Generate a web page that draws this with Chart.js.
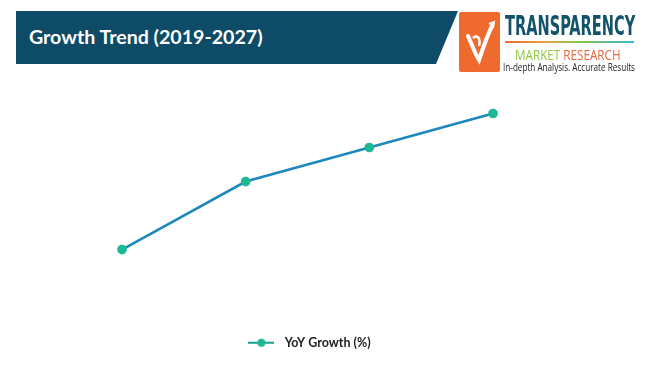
<!DOCTYPE html>
<html>
<head>
<meta charset="utf-8">
<script src="https://cdn.jsdelivr.net/npm/chart.js@4"></script>
<style>
  body { margin: 0; background: #fff; }
  #wrap { position: relative; width: 650px; height: 368px; overflow: hidden; }
  #chart { position: absolute; left: 0; top: 0; }
  .banner {
    position: absolute; left: 16px; top: 11px; width: 442px; height: 53px;
    background: #0e4b66;
    clip-path: polygon(0 0, 100% 0, calc(100% - 22px) 100%, 0 100%);
  }
  .banner span {
    position: absolute; left: 13px; top: 14px;
    color: #fff; font: bold 19.6px Lato, sans-serif; white-space: nowrap;
  }
  .logo-box {
    position: absolute; left: 459px; top: 12px; width: 41px; height: 60px;
    background: #ef6a2e; border-radius: 2px;
  }
  .logo-name {
    position: absolute; left: 505px; top: 10px; white-space: nowrap;
    font: bold 27px "DejaVu Sans Condensed", "DejaVu Sans", sans-serif; color: #12536b;
    transform-origin: 0 0; transform: scaleX(0.6);
  }
  .logo-bar {
    position: absolute; left: 505px; top: 41px; width: 129px; height: 2px;
    background: linear-gradient(90deg, #ef6a2e 0%, #e9a03a 30%, #8dc63f 55%, #35b6e0 100%);
  }
  .logo-sub {
    position: absolute; left: 515px; top: 44px; white-space: nowrap;
    font: 15px "Open Sans", sans-serif; transform-origin: 0 0; transform: scaleX(0.78);
  }
  .logo-sub .m { color: #8dc63f; }
  .logo-sub .r { color: #e8663d; }
  .logo-tag {
    position: absolute; left: 503px; top: 59px; white-space: nowrap;
    font: 11px "Open Sans", sans-serif; color: #222;
    transform-origin: 0 0; transform: scaleX(0.74);
  }
</style>
</head>
<body>
<div id="wrap">
  <canvas id="chart" width="650" height="368"></canvas>
  <div class="banner"><span>Growth Trend (2019-2027)</span></div>
  <div class="logo-box">
    <svg width="41" height="60" viewBox="0 0 41 60">
      <path d="M9 24 C12 30 15 40 20 48 C24 36 28 24 33 14" stroke="#fff" stroke-width="4" fill="none" stroke-linecap="round"/>
      <path d="M14 26 C18 22 22 26 20 34" stroke="#fff" stroke-width="2.5" fill="none"/>
      <path d="M30 12 L35 10 L34 16" stroke="#fff" stroke-width="2" fill="none"/>
    </svg>
  </div>
  <div class="logo-name">TRANSPARENCY</div>
  <div class="logo-bar"></div>
  <div class="logo-sub"><span class="m">MARKET</span> <span class="r">RESEARCH</span></div>
  <div class="logo-tag">In-depth Analysis. Accurate Results</div>
</div>
<script>
const years = ['2019', '2021', '2024', '2027'];
const yoyGrowth = [2.0, 4.0, 5.0, 6.0];
const seriesLabel = 'YoY Growth (%)';

const lineColor = '#1c88bd';
const pointColor = '#1db894';

// legend icon: short line with a dot in the middle
function makeLegendIcon() {
  const c = document.createElement('canvas');
  c.width = 26; c.height = 10;
  const g = c.getContext('2d');
  g.strokeStyle = '#19a08c';
  g.lineWidth = 2;
  g.beginPath(); g.moveTo(0, 5); g.lineTo(26, 5); g.stroke();
  g.fillStyle = pointColor;
  g.beginPath(); g.arc(13, 5, 4, 0, Math.PI * 2); g.fill();
  return c;
}
const legendIcon = makeLegendIcon();

const ctx = document.getElementById('chart').getContext('2d');
new Chart(ctx, {
  type: 'line',
  data: {
    labels: years,
    datasets: [{
      label: seriesLabel,
      data: yoyGrowth,
      borderColor: lineColor,
      borderWidth: 2.5,
      pointBackgroundColor: pointColor,
      pointBorderColor: pointColor,
      pointRadius: 3.6,
      pointStyle: 'circle',
      tension: 0,
      clip: false
    }]
  },
  options: {
    responsive: false,
    animation: false,
    layout: { padding: { left: 122, right: 157, top: 79.5, bottom: 9 } },
    plugins: {
      tooltip: { enabled: false },
      legend: {
        position: 'bottom',
        labels: {
          usePointStyle: true,
          pointStyleWidth: 34,
          padding: 6,
          color: '#222',
          font: { family: 'Lato', weight: 'bold', size: 12.5 },
          generateLabels: (chart) => [{
            text: seriesLabel,
            pointStyle: legendIcon,
            fontColor: '#222',
            strokeStyle: 'transparent',
            lineWidth: 0,
            datasetIndex: 0
          }]
        }
      }
    },
    scales: {
      x: { display: false, offset: false },
      y: { display: false, min: -0.38, max: 7 }
    }
  }
});
</script>
</body>
</html>
